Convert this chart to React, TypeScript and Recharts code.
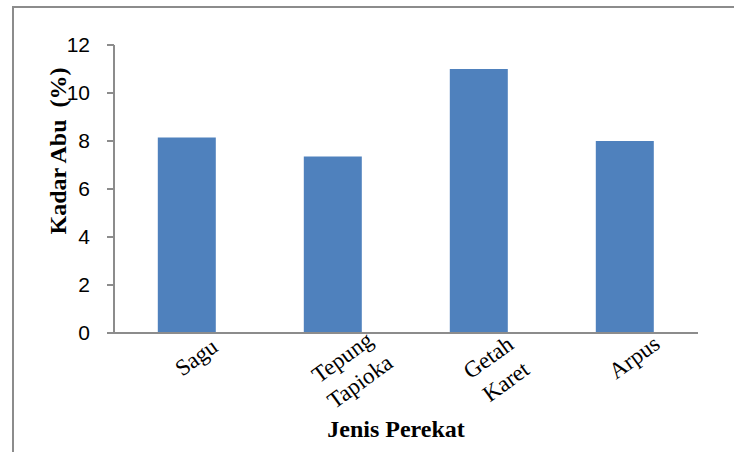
import { BarChart, Bar, XAxis, YAxis } from 'recharts'

// Kadar abu per jenis perekat
const categories = ['Sagu', 'Tepung Tapioka', 'Getah Karet', 'Arpus']
const kadarAbu = [8.15, 7.35, 11.0, 8.0]
const yTicks = [0, 2, 4, 6, 8, 10, 12]

const data = categories.map((name, i) => ({ name, abu: kadarAbu[i] }))

const AXIS = '#8c8c8c'

function CategoryTick(props: any) {
  const { x, y, payload } = props
  const lines = String(payload.value).split(' ')
  return (
    <g transform={`translate(${x + 9},${y + 24}) rotate(-36)`}>
      <text textAnchor="middle" fontFamily="'Liberation Serif', 'Times New Roman', serif" fontSize={23} fill="#000">
        {lines.map((l, i) => (
          <tspan key={i} x={0} dy={i === 0 ? '0.35em' : 30}>{l}</tspan>
        ))}
      </text>
    </g>
  )
}

function YTitle(props: any) {
  const { viewBox } = props
  const cx = viewBox.x + 58
  const cy = viewBox.y + viewBox.height / 2 - 38
  return (
    <text x={cx} y={cy} transform={`rotate(-90, ${cx}, ${cy})`} textAnchor="middle" dominantBaseline="central"
      fontFamily="'Liberation Serif', 'Times New Roman', serif" fontSize={24} fontWeight="bold" fill="#000"
      style={{ whiteSpace: 'pre' }}>
      {'Kadar Abu  (%)'}
    </text>
  )
}

function XTitle(props: any) {
  const { viewBox } = props
  const cx = viewBox.x + viewBox.width / 2 - 10
  return (
    <text x={cx} y={437} textAnchor="middle"
      fontFamily="'Liberation Serif', 'Times New Roman', serif" fontSize={24} fontWeight="bold" fill="#000">
      Jenis Perekat
    </text>
  )
}

export default function App() {
  return (
    <div style={{ position: 'absolute', left: 0, top: 0, width: 734, height: 452, overflow: 'hidden', background: '#fff' }}>
      {/* frame of the original chart */}
      <div style={{ position: 'absolute', left: 12, top: 6, width: 740, height: 460, borderLeft: `2px solid ${AXIS}`, borderTop: `2px solid ${AXIS}` }} />
      <div style={{ position: 'absolute', left: 0, top: 0 }}>
        <BarChart width={734} height={452} data={data} margin={{ top: 45, right: 36, left: 0, bottom: 0 }} barCategoryGap="30%">
          <XAxis
            dataKey="name"
            height={119}
            tickSize={0}
            tickMargin={0}
            tickLine={false}
            axisLine={{ stroke: AXIS, strokeWidth: 2 }}
            tick={<CategoryTick />}
            interval={0}
            label={{ content: <XTitle /> }}
          />
          <YAxis
            width={114}
            domain={[0, 12]}
            ticks={yTicks}
            tickSize={7}
            tickMargin={17}
            axisLine={{ stroke: AXIS, strokeWidth: 2 }}
            tickLine={{ stroke: AXIS, strokeWidth: 2 }}
            tick={{ fill: '#000', fontSize: 21, fontFamily: "'Liberation Sans', Arial, sans-serif" }}
            label={{ content: <YTitle /> }}
          />
          <Bar dataKey="abu" fill="#4f81bd" isAnimationActive={false} />
        </BarChart>
      </div>
    </div>
  )
}
